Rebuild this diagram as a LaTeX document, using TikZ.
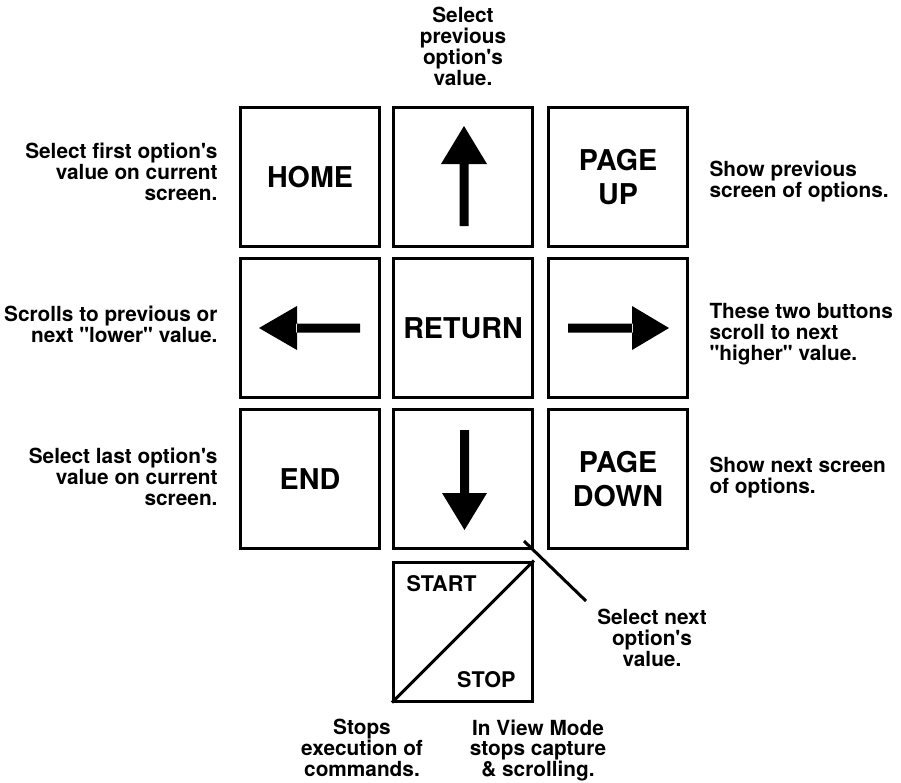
\documentclass[tikz,border=0pt]{standalone}
\usepackage{fontspec}
\setmainfont{TeX Gyre Heros}[Ligatures=TeXOff]

\tikzset{every picture/.style={line width=2.25pt}}

\begin{document}
\begin{tikzpicture}[x=0.75pt,y=0.75pt,yscale=-1,xscale=1,
	key/.style={draw,rectangle,minimum size=104.25pt,inner sep=0pt,align=center,font=\bfseries\fontsize{21.5}{25.5}\selectfont},
	note/.style={inner sep=0pt,font=\bfseries\fontsize{15.6}{15.7}\selectfont},
	tag/.style={inner sep=0pt,font=\bfseries\fontsize{16.2}{18}\selectfont}]
	\useasboundingbox (0,0) rectangle (901,783); %set diagram to the page size

	%Shape: Keys [id:home..start]
	\draw (310,177) node[key] (home) {HOME};
	\draw (463,177) node[key] (up) {};
	\draw (618,177) node[key] (pgup) {PAGE\\UP};
	\draw (310,328) node[key] (left) {};
	\draw (463,328) node[key] (return) {RETURN};
	\draw (618,328) node[key] (right) {};
	\draw (310,479) node[key] (end) {END};
	\draw (463,479) node[key] (down) {};
	\draw (618,479) node[key] (pgdown) {PAGE\\DOWN};
	\draw (463,631.5) node[key] (start) {};

	%Shape: Arrows
	\fill (459.5,226) rectangle (468.5,163) (441,164) -- (464,126) -- (487,164) -- cycle;
	\fill (460,430) rectangle (469,494) (442,493) -- (464.5,530) -- (487,493) -- cycle;
	\fill (360,323.5) rectangle (296,332.5) (297,306) -- (259,328) -- (297,350) -- cycle;
	\fill (568,323.5) rectangle (633,332.5) (632,306) -- (669,328) -- (632,350) -- cycle;

	%Straight Lines [id:diagonal]
	\draw (start.south west) -- (start.north east);
	%Straight Lines [id:leader]
	\coordinate (leadA) at (524,541);
	\coordinate (leadB) at (586,601);
	\draw (leadA) -- (leadB);

	% Text Node
	\draw (405,591) node[tag,anchor=base west] (starttxt) {START};
	% Text Node
	\draw (517,687) node[tag,anchor=base east] (stoptxt) {STOP};

	% Text Node
	\draw (463,6) node[note,anchor=north,align=center] (upnote) {Select\\previous\\option's\\value.};
	% Text Node
	\draw (219,141.5) node[note,anchor=north east,align=right] (homenote) {Select first option's\\value on current\\screen.};
	% Text Node
	\draw (219,304.5) node[note,anchor=north east,align=right] (leftnote) {Scrolls to previous or\\next "lower" value.};
	% Text Node
	\draw (219,446.5) node[note,anchor=north east,align=right] (endnote) {Select last option's\\value on current\\screen.};
	% Text Node
	\draw (708,159.5) node[note,anchor=north west,align=left] (pgupnote) {Show previous\\screen of options.};
	% Text Node
	\draw (708,301.5) node[note,anchor=north west,align=left] (rightnote) {These two buttons\\scroll to next\\"higher" value.};
	% Text Node
	\draw (708,456) node[note,anchor=north west,align=left] (pgdownnote) {Show next screen\\of options.};
	% Text Node
	\draw (652,608) node[note,anchor=north,align=center] (downnote) {Select next\\option's\\value.};
	% Text Node
	\draw (362,718) node[note,anchor=north,align=center] (stopnote) {Stops\\execution of\\commands.};
	% Text Node
	\draw (538,718) node[note,anchor=north,align=center] (viewnote) {In View Mode\\stops capture\\\& scrolling.};

\end{tikzpicture}
\end{document}
